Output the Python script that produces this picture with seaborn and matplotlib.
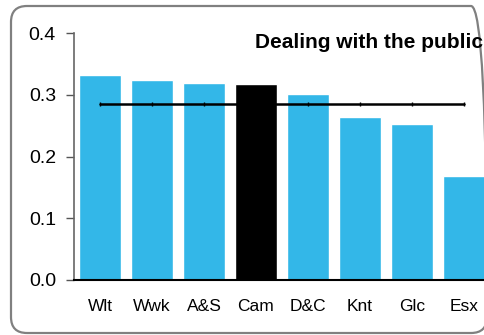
import matplotlib
matplotlib.use('Agg')
import matplotlib.pyplot as plt
from matplotlib.patches import FancyBboxPatch
from matplotlib.transforms import IdentityTransform
import seaborn as sns

# data
areas = ['Wlt', 'Wwk', 'A&S', 'Cam', 'D&C', 'Knt', 'Glc', 'Esx']
scores = [0.332, 0.324, 0.319, 0.317, 0.301, 0.264, 0.253, 0.168]
average = [0.285] * len(areas)
highlight = 'Cam'
y_ticks = [0.0, 0.1, 0.2, 0.3, 0.4]
title = 'Dealing with the public'

blue = '#33b7e8'
colors = {a: ('#000000' if a == highlight else blue) for a in areas}

sns.set_style('white')
plt.rcParams['font.family'] = ['Liberation Sans', 'DejaVu Sans']
plt.rcParams['text.color'] = 'black'
plt.rcParams['xtick.color'] = 'black'
plt.rcParams['ytick.color'] = 'black'

fig = plt.figure(figsize=(4.84, 3.35), dpi=100)
ax = fig.add_axes([74 / 484, 1 - 280 / 335, 416 / 484, 247 / 335])

sns.barplot(x=areas, y=scores, hue=areas, palette=colors, legend=False,
            width=0.8, saturation=1, ax=ax)
ax.plot(range(len(areas)), average, color='black', lw=1.8,
        marker='|', markersize=3, markeredgewidth=1)

ax.set_xlim(-0.5, len(areas) - 0.5)
ax.set_ylim(0, 0.4)
ax.set_yticks(y_ticks)
ax.set_yticklabels([f'{t:.1f}' for t in y_ticks], fontsize=14)
ax.tick_params(axis='x', length=0, labelsize=12.5, pad=14)
ax.tick_params(axis='y', length=6, width=1, color='#555555', left=True, pad=7)
ax.set_xlabel('')
ax.set_ylabel('')
for side in ['top', 'right']:
    ax.spines[side].set_visible(False)
ax.spines['left'].set_color('#666666')
ax.spines['left'].set_linewidth(1.2)
ax.spines['bottom'].set_color('black')
ax.spines['bottom'].set_linewidth(1.5)

fig.text(483 / 484, 1 - 42 / 335, title, ha='right', va='center',
         fontsize=15, fontweight='bold')

# rounded frame around the whole chart (pixel coords), clipped on the right
frame = FancyBboxPatch((11, 2), 476, 327, boxstyle='round,pad=0,rounding_size=16',
                       transform=IdentityTransform(), fill=False,
                       edgecolor='#808080', lw=1.6)
fig.patches.append(frame)

fig.savefig('out.png', dpi=100)
